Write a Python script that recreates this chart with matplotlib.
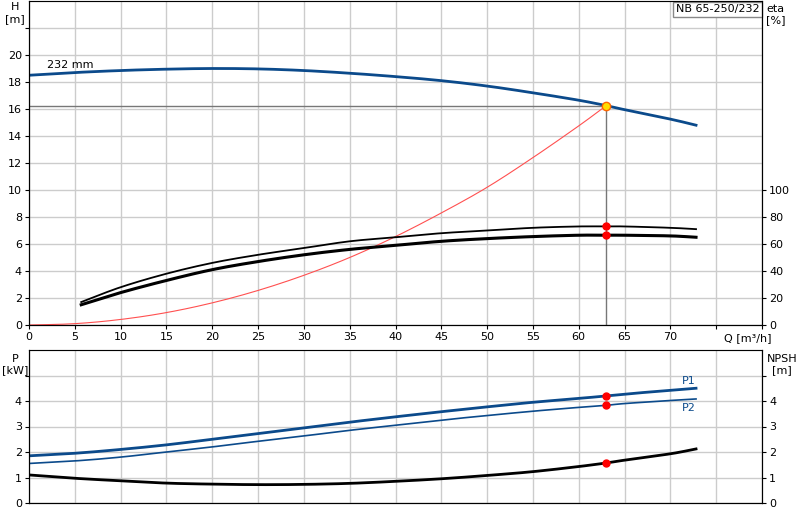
import matplotlib
matplotlib.use("Agg")
import matplotlib.pyplot as plt
import numpy as np

q = [0, 5, 10, 15, 20, 25, 30, 35, 40, 45, 50, 55, 60, 63, 65, 70, 72.8]
h = [18.5, 18.7, 18.85, 18.95, 19.0, 18.97, 18.85, 18.65, 18.4, 18.1, 17.7, 17.2, 16.65, 16.25, 15.95, 15.25, 14.8]
q_sys = [0, 5, 10, 15, 20, 25, 30, 35, 40, 45, 50, 55, 60, 63]
h_sys = [0, 0.1, 0.41, 0.92, 1.64, 2.56, 3.68, 5.0, 6.55, 8.3, 10.2, 12.4, 14.75, 16.25]
q_eta = [5.7, 10, 15, 20, 25, 30, 35, 40, 45, 50, 55, 60, 63, 65, 70, 72.8]
eta_hi = [17, 28, 38, 46, 52, 57, 62, 65, 68, 70, 72, 73, 73, 73, 72, 71]
eta_lo = [15, 24, 33, 41, 47, 52, 56, 59, 62, 64, 65.5, 66.5, 66.5, 66.5, 66, 65]
p1 = [1.85, 1.95, 2.1, 2.28, 2.5, 2.72, 2.95, 3.17, 3.38, 3.58, 3.77, 3.95, 4.1, 4.2, 4.27, 4.42, 4.5]
p2 = [1.55, 1.65, 1.8, 2.0, 2.2, 2.42, 2.63, 2.85, 3.05, 3.25, 3.43, 3.6, 3.75, 3.83, 3.9, 4.02, 4.08]
npsh = [1.1, 0.97, 0.87, 0.78, 0.74, 0.72, 0.73, 0.77, 0.85, 0.95, 1.08, 1.23, 1.43, 1.57, 1.68, 1.93, 2.12]
q_duty, h_duty = 63, 16.25
eta_duty = [73, 66.5]
p_duty = [4.2, 3.83]
npsh_duty = 1.57


def smooth(x, y, n=12):
    # Catmull-Rom rendering between the read points
    x = np.asarray(x, float); y = np.asarray(y, float)
    xp = np.concatenate([[2*x[0]-x[1]], x, [2*x[-1]-x[-2]]])
    yp = np.concatenate([[2*y[0]-y[1]], y, [2*y[-1]-y[-2]]])
    xs, ys = [], []
    for i in range(1, len(xp)-2):
        t = np.linspace(0, 1, n, endpoint=False)
        for arr, out in ((xp, xs), (yp, ys)):
            p0, p1_, p2_, p3 = arr[i-1], arr[i], arr[i+1], arr[i+2]
            out.extend(0.5*((2*p1_) + (-p0+p2_)*t + (2*p0-5*p1_+4*p2_-p3)*t**2 + (-p0+3*p1_-3*p2_+p3)*t**3))
    xs.append(x[-1]); ys.append(y[-1])
    return xs, ys


blue = "#0b4a8b"
grid = "#cccccc"
fs = 8
fig = plt.figure(figsize=(8, 5.2), dpi=100)
ax = fig.add_axes([29/800, 1-325/520, 733/800, 324/520])
ax.set_xlim(0, 80); ax.set_ylim(0, 24)
ax.set_xticks(range(0, 81, 5)); ax.set_yticks(range(0, 24, 2))
ax.grid(True, color=grid, lw=1)
ax.set_xticklabels([str(v) if v <= 70 else "" for v in range(0, 81, 5)], fontsize=fs)
ax.set_yticklabels([str(v) if v <= 20 else "" for v in range(0, 24, 2)], fontsize=fs)
ax.tick_params(length=3, pad=2)
ax.plot(*smooth(q, h), color=blue, lw=2)
ax.plot(*smooth(q_sys, h_sys), color="#ff5050", lw=0.8)
ax.axhline(h_duty, xmax=q_duty/80, color="#777777", lw=1)
ax.plot([q_duty, q_duty], [0, h_duty], color="#777777", lw=1)
ax.plot(q_duty, h_duty, "o", ms=6, mfc="#ffdd00", mec="#ff6600", mew=1)
ax.text(2, 19.0, "232 mm", fontsize=fs)
ax.text(75.8, -1.0, "Q [m³/h]", fontsize=fs, va="center")
ax.text(-1.5, 23.9, "H\n[m]", fontsize=fs, ha="center", va="top")
ax.text(79.7, 23.75, "NB 65-250/232", fontsize=fs, ha="right", va="top",
        bbox=dict(fc="white", ec="#888888", pad=2))
ax.spines["top"].set_color("#999999")
ax2 = ax.twinx()
ax2.set_ylim(0, 240)
ax2.set_yticks(range(0, 101, 20))
ax2.tick_params(labelsize=fs, length=3, pad=2)
ax2.plot(*smooth(q_eta, eta_hi), color="black", lw=1.3)
ax2.plot(*smooth(q_eta, eta_lo), color="black", lw=2.2)
ax2.plot([q_duty]*2, eta_duty, "o", color="red", ms=5)
ax2.text(81.5, 238, "eta\n[%]", fontsize=fs, ha="center", va="top")

bx = fig.add_axes([29/800, 1-503/520, 733/800, 153/520])
bx.set_xlim(0, 80); bx.set_ylim(0, 6)
bx.set_xticks(range(0, 81, 5)); bx.set_xticklabels([])
bx.tick_params(axis="x", length=0)
bx.set_yticks(range(0, 6)); bx.set_yticklabels(["0", "1", "2", "3", "4", ""], fontsize=fs)
bx.tick_params(axis="y", length=3, pad=2)
bx.grid(True, color=grid, lw=1)
bx.plot(*smooth(q, p1), color=blue, lw=2)
bx.plot(*smooth(q, p2), color=blue, lw=1.2)
bx.plot(*smooth(q, npsh), color="black", lw=2)
bx.plot([q_duty]*2, p_duty, "o", color="red", ms=5)
bx.plot(q_duty, npsh_duty, "o", color="red", ms=5)
bx.text(72, 4.65, "P1", color=blue, fontsize=fs, ha="center")
bx.text(72, 3.6, "P2", color=blue, fontsize=fs, ha="center")
bx.text(-1.5, 5.85, "P\n[kW]", fontsize=fs, ha="center", va="top")
bx.spines["top"].set_color("#999999")
bx2 = bx.twinx()
bx2.set_ylim(0, 6); bx2.set_yticks(range(0, 6))
bx2.set_yticklabels(["0", "1", "2", "3", "4", ""], fontsize=fs)
bx2.tick_params(length=3, pad=2)
bx2.text(82.2, 5.85, "NPSH\n[m]", fontsize=fs, ha="center", va="top")
fig.savefig("out.png", dpi=100)
